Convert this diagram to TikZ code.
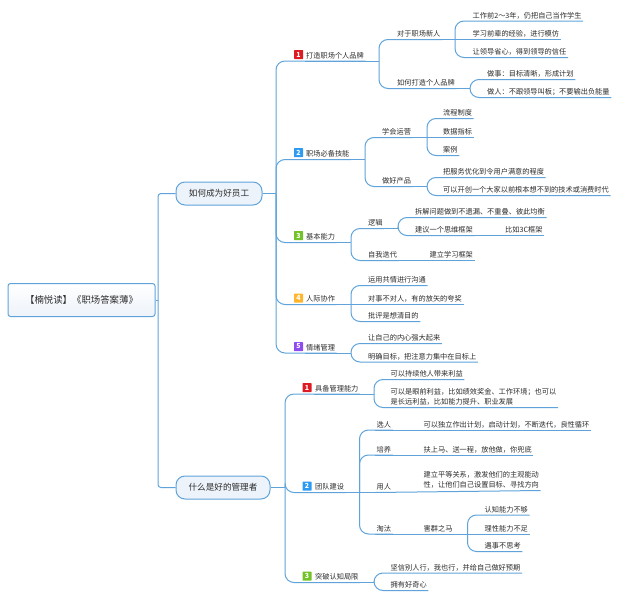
\documentclass[tikz,border=0pt]{standalone}
\usepackage{fontspec}
\setmainfont{Noto Sans CJK SC}

\definecolor{linkblue}{HTML}{5FA3DA}
\definecolor{boxfill}{HTML}{EDF3FA}
\definecolor{inktext}{HTML}{2B2B2B}
\definecolor{mark1}{HTML}{DE1A22}
\definecolor{mark2}{HTML}{2E9BF2}
\definecolor{mark3}{HTML}{74C22A}
\definecolor{mark4}{HTML}{FFB52E}
\definecolor{mark5}{HTML}{8E4CF0}

\tikzset{
  link/.style = {draw=linkblue, line width=1pt, rounded corners=9pt},
  topic/.style = {anchor=south west, inner xsep=1.5pt, inner ysep=2pt, xshift=-1.5pt, text=inktext,
    align=left, font=\fontsize{7.2}{10}\selectfont},
  badge/.style = {fill=#1, text=white, minimum size=9pt, inner sep=0pt, rounded corners=0.5pt,
    font=\fontsize{7}{7}\selectfont\bfseries},
  rootbox/.style = {draw=linkblue, line width=1pt, rounded corners=2.5pt, top color=white, bottom color=boxfill,
    minimum width=147pt, minimum height=33pt, text=inktext, font=\fontsize{9.4}{11}\selectfont},
  mainbox/.style = {draw=linkblue, line width=1pt, rounded corners=9pt, fill=boxfill, minimum height=23pt,
    text=inktext, font=\fontsize{8.6}{10}\selectfont}
}
% parent anchor, trunk, kids
\newcommand{\branch}[3]{\draw[link] (#1) -- (#1 -| #2);
  \foreach \kid in {#3} \draw[link] (#1 -| #2) |- (\kid.south east);}
\newcommand{\chain}[2]{\draw[link] (#1.south west) -- (#2.south east);}

\begin{document}
\begin{tikzpicture}[x=1pt,y=-1pt]
\useasboundingbox (0,0) rectangle (619,600);

\node[rootbox] (root) at (81.5,300) {【楠悦读】《职场答案薄》};
\node[mainbox,minimum width=86pt] (staff) at (219,193.5) {如何成为好员工};
\node[mainbox,minimum width=94pt] (boss) at (223,487.5) {什么是好的管理者};

% trunks
\coordinate (t0) at (158,0);
\coordinate (ta) at (276,0);
\coordinate (tb) at (285,0);
\coordinate (ta1) at (379,0);
\coordinate (ta11) at (455,0);
\coordinate (ta12) at (470,0);
\coordinate (ta2) at (365,0);
\coordinate (ta21) at (427,0);
\coordinate (ta3) at (351,0);
\coordinate (ta31) at (398,0);
\coordinate (tb1) at (374,0);
\coordinate (tb2) at (359.5,0);
\coordinate (tb24) at (467.5,0);

% first half
\node[badge=mark1] at (298.5,54.5) {1};
\node[topic] (a1) at (306,61) {打造职场个人品牌};
\node[topic] (a11) at (397,39.5) {对于职场新人};
\node[topic] (a111) at (472.5,21) {工作前2～3年，仍把自己当作学生};
\node[topic] (a112) at (472.5,39.5) {学习前辈的经验，进行模仿};
\node[topic] (a113) at (472.5,57.5) {让领导省心，得到领导的信任};
\node[topic] (a12) at (397,88.5) {如何打造个人品牌};
\node[topic] (a121) at (487,79.5) {做事：目标清晰，形成计划};
\node[topic] (a122) at (487,97.5) {做人：不跟领导叫板；不要输出负能量};

\node[badge=mark2] at (298.5,152.5) {2};
\node[topic] (a2) at (306,159.5) {职场必备技能};
\node[topic] (a21) at (382,137.5) {学会运营};
\node[topic] (a211) at (443,118.5) {流程制度};
\node[topic] (a212) at (443,137.5) {数据指标};
\node[topic] (a213) at (443,155.5) {案例};
\node[topic] (a22) at (382,186.5) {做好产品};
\node[topic] (a221) at (443,177.5) {把服务优化到令用户满意的程度};
\node[topic] (a222) at (443,195.5) {可以开创一个大家以前根本想不到的技术或消费时代};

\node[badge=mark3] at (298.5,235.5) {3};
\node[topic] (a3) at (306,242.5) {基本能力};
\node[topic] (a31) at (368,228.5) {逻辑};
\node[topic] (a311) at (415,217.5) {拆解问题做到不遗漏、不重叠、彼此均衡};
\node[topic] (a312) at (415,235.5) {建议一个思维框架};
\node[topic] (a313) at (505,235.5) {比如3C框架};
\node[topic] (a32) at (368,260.5) {自我迭代};
\node[topic] (a321) at (429.5,260.5) {建立学习框架};

\node[badge=mark4] at (298.5,298) {4};
\node[topic] (a4) at (306,304.5) {人际协作};
\node[topic] (a41) at (368,285.5) {运用共情进行沟通};
\node[topic] (a42) at (368,304.5) {对事不对人，有的放矢的夸奖};
\node[topic] (a43) at (368,321.5) {批评是想清目的};

\node[badge=mark5] at (298.5,346.5) {5};
\node[topic] (a5) at (306,353) {情绪管理};
\node[topic] (a51) at (368,343.5) {让自己的内心强大起来};
\node[topic] (a52) at (368,362) {明确目标，把注意力集中在目标上};

% second half
\node[badge=mark1] at (307,387.5) {1};
\node[topic] (b1) at (315,394) {具备管理能力};
\node[topic] (b11) at (390.5,379.5) {可以持续他人带来利益};
\node[topic] (b12) at (390.5,407.5) {可以是眼前利益，比如绩效奖金、工作环境；也可以\\是长远利益，比如能力提升、职业发展};

\node[badge=mark2] at (307,486) {2};
\node[topic] (b2) at (315,492.5) {团队建设};
\node[topic] (b21) at (376.5,430) {选人};
\node[topic] (b211) at (423.5,430) {可以独立作出计划，启动计划，不断迭代，良性循环};
\node[topic] (b22) at (376.5,455) {培养};
\node[topic] (b221) at (423.5,455) {扶上马、送一程，放他做，你兜底};
\node[topic] (b23) at (376.5,492.5) {用人};
\node[topic] (b231) at (423.5,490.5) {建立平等关系，激发他们的主观能动\\性，让他们自己设置目标、寻找方向};
\node[topic] (b24) at (376.5,534) {淘汰};
\node[topic] (b241) at (423.5,534) {害群之马};
\node[topic] (b2411) at (484.5,515) {认知能力不够};
\node[topic] (b2412) at (484.5,534) {理性能力不足};
\node[topic] (b2413) at (484.5,551.5) {遇事不思考};

\node[badge=mark3] at (307,576) {3};
\node[topic] (b3) at (315,582.5) {突破认知局限};
\node[topic] (b31) at (390.5,573) {坚信别人行，我也行，并给自己做好预期};
\node[topic] (b32) at (390.5,590.5) {拥有好奇心};

% connectors
\draw[link] (root.east) -- (root.east -| t0);
\draw[link,rounded corners=3pt] (root.east -| t0) |- (staff.west);
\draw[link,rounded corners=3pt] (root.east -| t0) |- (boss.west);

\branch{staff.east}{ta}{a1,a2,a3,a4,a5}
\branch{a1.south west}{ta1}{a11,a12}
\branch{a11.south west}{ta11}{a111,a113}
\chain{a11}{a112}
\branch{a12.south west}{ta12}{a121,a122}
\branch{a2.south west}{ta2}{a21,a22}
\branch{a21.south west}{ta21}{a211,a213}
\chain{a21}{a212}
\branch{a22.south west}{ta21}{a221,a222}
\branch{a3.south west}{ta3}{a31,a32}
\branch{a31.south west}{ta31}{a311,a312}
\chain{a312}{a313}
\chain{a32}{a321}
\branch{a4.south west}{ta3}{a41,a43}
\chain{a4}{a42}
\branch{a5.south west}{ta3}{a51,a52}

\branch{boss.east}{tb}{b1,b2,b3}
\branch{b1.south west}{tb1}{b11,b12}
\branch{b2.south west}{tb2}{b21,b22,b24}
\chain{b2}{b23}
\chain{b21}{b211}
\chain{b22}{b221}
\chain{b23}{b231}
\chain{b24}{b241}
\branch{b241.south west}{tb24}{b2411,b2413}
\chain{b241}{b2412}
\branch{b3.south west}{tb1}{b31,b32}
\end{tikzpicture}
\end{document}
